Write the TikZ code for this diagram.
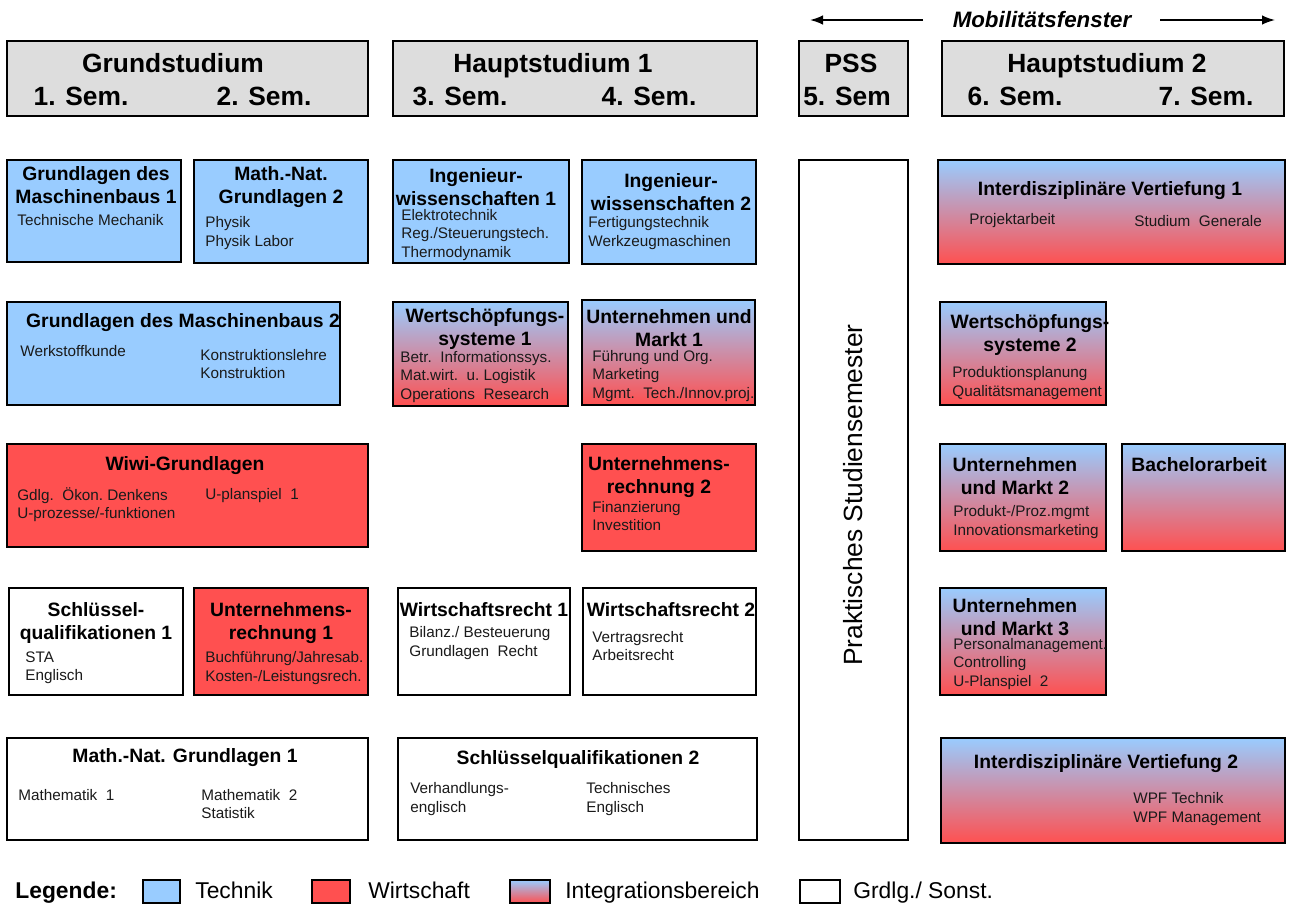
\documentclass[tikz,border=0pt]{standalone}
\usepackage{fontspec}
\setmainfont{Liberation Sans}
\usetikzlibrary{fit,arrows.meta}
\definecolor{tblue}{HTML}{99CCFF}
\definecolor{tred}{HTML}{FF5050}
\definecolor{hgray}{HTML}{DDDDDD}
\definecolor{txt}{HTML}{1A1A1A}
\begin{document}
\begin{tikzpicture}[x=0.02cm,y=-0.02cm,
  box/.style={draw=black, line width=1.1pt, inner sep=0pt},
  tech/.style={box, fill=tblue},
  wiwi/.style={box, fill=tred},
  integ/.style={box, top color=tblue, bottom color=tred},
  plain/.style={box, fill=white},
  head/.style={box, fill=hgray},
  htitle/.style={font=\fontsize{15}{17}\selectfont\bfseries, inner sep=0pt, text height=10.8pt, text depth=0pt},
  mtitle/.style={font=\fontsize{11}{13.2}\selectfont\bfseries, align=center, inner sep=0pt},
  sub/.style={font=\fontsize{8.7}{10.4}\selectfont, align=left, anchor=west, inner sep=0pt, text=txt},
  legtxt/.style={font=\fontsize{13}{15}\selectfont, anchor=base west, inner sep=0pt},
  arr/.style={line width=0.9pt, -{Latex[length=2.6mm,width=1.9mm]}}
]
\useasboundingbox (0,0) rectangle (1290,907);

% headers
\node[head, fit={(7,41)(368,116)}] (h1) {};
\node[htitle] (h1t) at (173,63) {Grundstudium};
\node[htitle] (h1a) at (81,96) {1. Sem.};
\node[htitle] (h1b) at (264,96) {2. Sem.};
\node[head, fit={(393,41)(757,116)}] (h2) {};
\node[htitle] (h2t) at (553,63) {Hauptstudium 1};
\node[htitle] (h2a) at (460,96) {3. Sem.};
\node[htitle] (h2b) at (649,96) {4. Sem.};
\node[head, fit={(799,41)(908,116)}] (h3) {};
\node[htitle] (h3t) at (851,63) {PSS};
\node[htitle] (h3a) at (847,96) {5. Sem};
\node[head, fit={(942,41)(1284,116)}] (h4) {};
\node[htitle] (h4t) at (1107,63) {Hauptstudium 2};
\node[htitle] (h4a) at (1015,96) {6. Sem.};
\node[htitle] (h4b) at (1206,96) {7. Sem.};

% Mobilitaetsfenster
\node[font=\fontsize{12.7}{14}\selectfont\bfseries\itshape, inner sep=0pt] (mob) at (1042,20) {Mobilitätsfenster};
\coordinate (mobLs) at (923,20);
\coordinate (mobLe) at (810,20);
\coordinate (mobRs) at (1160,20);
\coordinate (mobRe) at (1275,20);
\draw[arr] (mobLs) -- (mobLe);
\draw[arr] (mobRs) -- (mobRe);

% row 1
\node[tech, fit={(7,160)(181,262)}] (gm1) {};
\node[mtitle] (gm1t) at (96,185) {Grundlagen des\\Maschinenbaus 1};
\node[sub] (gm1s) at (17,220) {Technische Mechanik};

\node[tech, fit={(194,160)(368,263)}] (mn2) {};
\node[mtitle] (mn2t) at (281,187) {Math.-Nat.\\Grundlagen 2};
\node[sub] (mn2s) at (205,233) {Physik\\Physik Labor};

\node[tech, fit={(393,160)(569,263)}] (iw1) {};
\node[mtitle] (iw1t) at (476,187) {Ingenieur-\\wissenschaften 1};
\node[sub] (iw1s) at (401,235) {Elektrotechnik\\Reg./Steuerungstech.\\Thermodynamik};

\node[tech, fit={(582,160)(756,264)}] (iw2) {};
\node[mtitle] (iw2t) at (671,192) {Ingenieur-\\wissenschaften 2};
\node[sub] (iw2s) at (588,233) {Fertigungstechnik\\Werkzeugmaschinen};

\node[plain, fit={(799,160)(908,840)}] (pss) {};
\node[rotate=90, font=\fontsize{15}{17}\selectfont, inner sep=0pt] (psst) at (853,495) {Praktisches Studiensemester};

\node[integ, fit={(938,160)(1285,264)}] (iv1) {};
\node[mtitle] (iv1t) at (1110,191) {Interdisziplinäre Vertiefung 1};
\node[sub] (iv1a) at (969,221) {Projektarbeit};
\node[sub] (iv1b) at (1134,221) {Studium\ \ Generale};

% row 2
\node[tech, fit={(7,302)(340,405)}] (gm2) {};
\node[mtitle] (gm2t) at (183,323) {Grundlagen des Maschinenbaus 2};
\node[sub] (gm2a) at (20,351) {Werkstoffkunde};
\node[sub] (gm2b) at (200,364) {Konstruktionslehre\\Konstruktion};

\node[integ, fit={(393,302)(568,406)}] (ws1) {};
\node[mtitle] (ws1t) at (485,329) {Wertschöpfungs-\\systeme 1};
\node[sub] (ws1s) at (400,377) {Betr.\ \ Informationssys.\\Mat.wirt.\ \ u.\ Logistik\\Operations\ \ Research};

\node[integ, fit={(582,300)(755,405)}] (um1) {};
\node[mtitle] (um1t) at (669,328) {Unternehmen und\\Markt 1};
\node[sub] (um1s) at (592,376) {Führung und Org.\\Marketing\\Mgmt.\ \ Tech./Innov.proj.};

\node[integ, fit={(940,302)(1106,405)}] (ws2) {};
\node[mtitle] (ws2t) at (1030,335) {Wertschöpfungs-\\systeme 2};
\node[sub] (ws2s) at (952,383) {Produktionsplanung\\Qualitätsmanagement};

% row 3
\node[wiwi, fit={(7,444)(368,547)}] (wiwi) {};
\node[mtitle] (wiwit) at (185,466) {Wiwi-Grundlagen};
\node[sub] (wiwia) at (17,505) {Gdlg.\ \ Ökon.\ Denkens\\U-prozesse/-funktionen};
\node[sub] (wiwib) at (205,496) {U-planspiel\ \ 1};

\node[wiwi, fit={(582,444)(756,551)}] (ur2) {};
\node[mtitle] (ur2t) at (659,477) {Unternehmens-\\rechnung 2};
\node[sub] (ur2s) at (592,516) {Finanzierung\\Investition};

\node[integ, fit={(940,444)(1106,551)}] (um2) {};
\node[mtitle] (um2t) at (1015,476) {Unternehmen\\und Markt 2};
\node[sub] (um2s) at (953,522) {Produkt-/Proz.mgmt\\Innovationsmarketing};

\node[integ, fit={(1122,444)(1285,551)}] (ba) {};
\node[mtitle, anchor=west] (bat) at (1131,465) {Bachelorarbeit};

% row 4
\node[plain, fit={(9,588)(183,695)}] (sq1) {};
\node[mtitle] (sq1t) at (96,623) {Schlüssel-\\qualifikationen 1};
\node[sub] (sq1s) at (25,668) {STA\\Englisch};

\node[wiwi, fit={(194,588)(368,695)}] (ur1) {};
\node[mtitle] (ur1t) at (281,623) {Unternehmens-\\rechnung 1};
\node[sub] (ur1s) at (205,668) {Buchführung/Jahresab.\\Kosten-/Leistungsrech.};

\node[plain, fit={(398,588)(570,695)}] (wr1) {};
\node[mtitle] (wr1t) at (484,610) {Wirtschaftsrecht 1};
\node[sub] (wr1s) at (409,643) {Bilanz./ Besteuerung\\Grundlagen\ \ Recht};

\node[plain, fit={(583,588)(756,695)}] (wr2) {};
\node[mtitle] (wr2t) at (671,610) {Wirtschaftsrecht 2};
\node[sub] (wr2s) at (592,646) {Vertragsrecht\\Arbeitsrecht};

\node[integ, fit={(940,588)(1106,695)}] (um3) {};
\node[mtitle] (um3t) at (1015,617) {Unternehmen\\und Markt 3};
\node[sub] (um3s) at (953,664) {Personalmanagement.\\Controlling\\U-Planspiel\ \ 2};

% row 5
\node[plain, fit={(7,738)(368,840)}] (mn1) {};
\node[mtitle] (mn1t) at (185,758) {Math.-Nat. Grundlagen 1};
\node[sub] (mn1a) at (18,795) {Mathematik\ \ 1};
\node[sub] (mn1b) at (201,804) {Mathematik\ \ 2\\Statistik};

\node[plain, fit={(398,738)(757,840)}] (sq2) {};
\node[mtitle] (sq2t) at (578,759) {Schlüsselqualifikationen 2};
\node[sub] (sq2a) at (410,799) {Verhandlungs-\\englisch};
\node[sub] (sq2b) at (586,799) {Technisches\\Englisch};

\node[integ, fit={(941,738)(1285,843)}] (iv2) {};
\node[mtitle] (iv2t) at (1106,764) {Interdisziplinäre Vertiefung 2};
\node[sub] (iv2s) at (1133,809) {WPF Technik\\WPF Management};

% legend
\node[legtxt, font=\fontsize{13}{15}\selectfont\bfseries] (leg) at (15,898) {Legende:};
\node[tech, fit={(143,880)(180,903)}] (lg1) {};
\node[legtxt] (lg1t) at (195,898) {Technik};
\node[wiwi, fit={(312,880)(350,903)}] (lg2) {};
\node[legtxt] (lg2t) at (368,898) {Wirtschaft};
\node[integ, fit={(510,880)(550,903)}] (lg3) {};
\node[legtxt] (lg3t) at (565,898) {Integrationsbereich};
\node[plain, fit={(800,880)(840,903)}] (lg4) {};
\node[legtxt] (lg4t) at (853,898) {Grdlg./ Sonst.};
\end{tikzpicture}
\end{document}
